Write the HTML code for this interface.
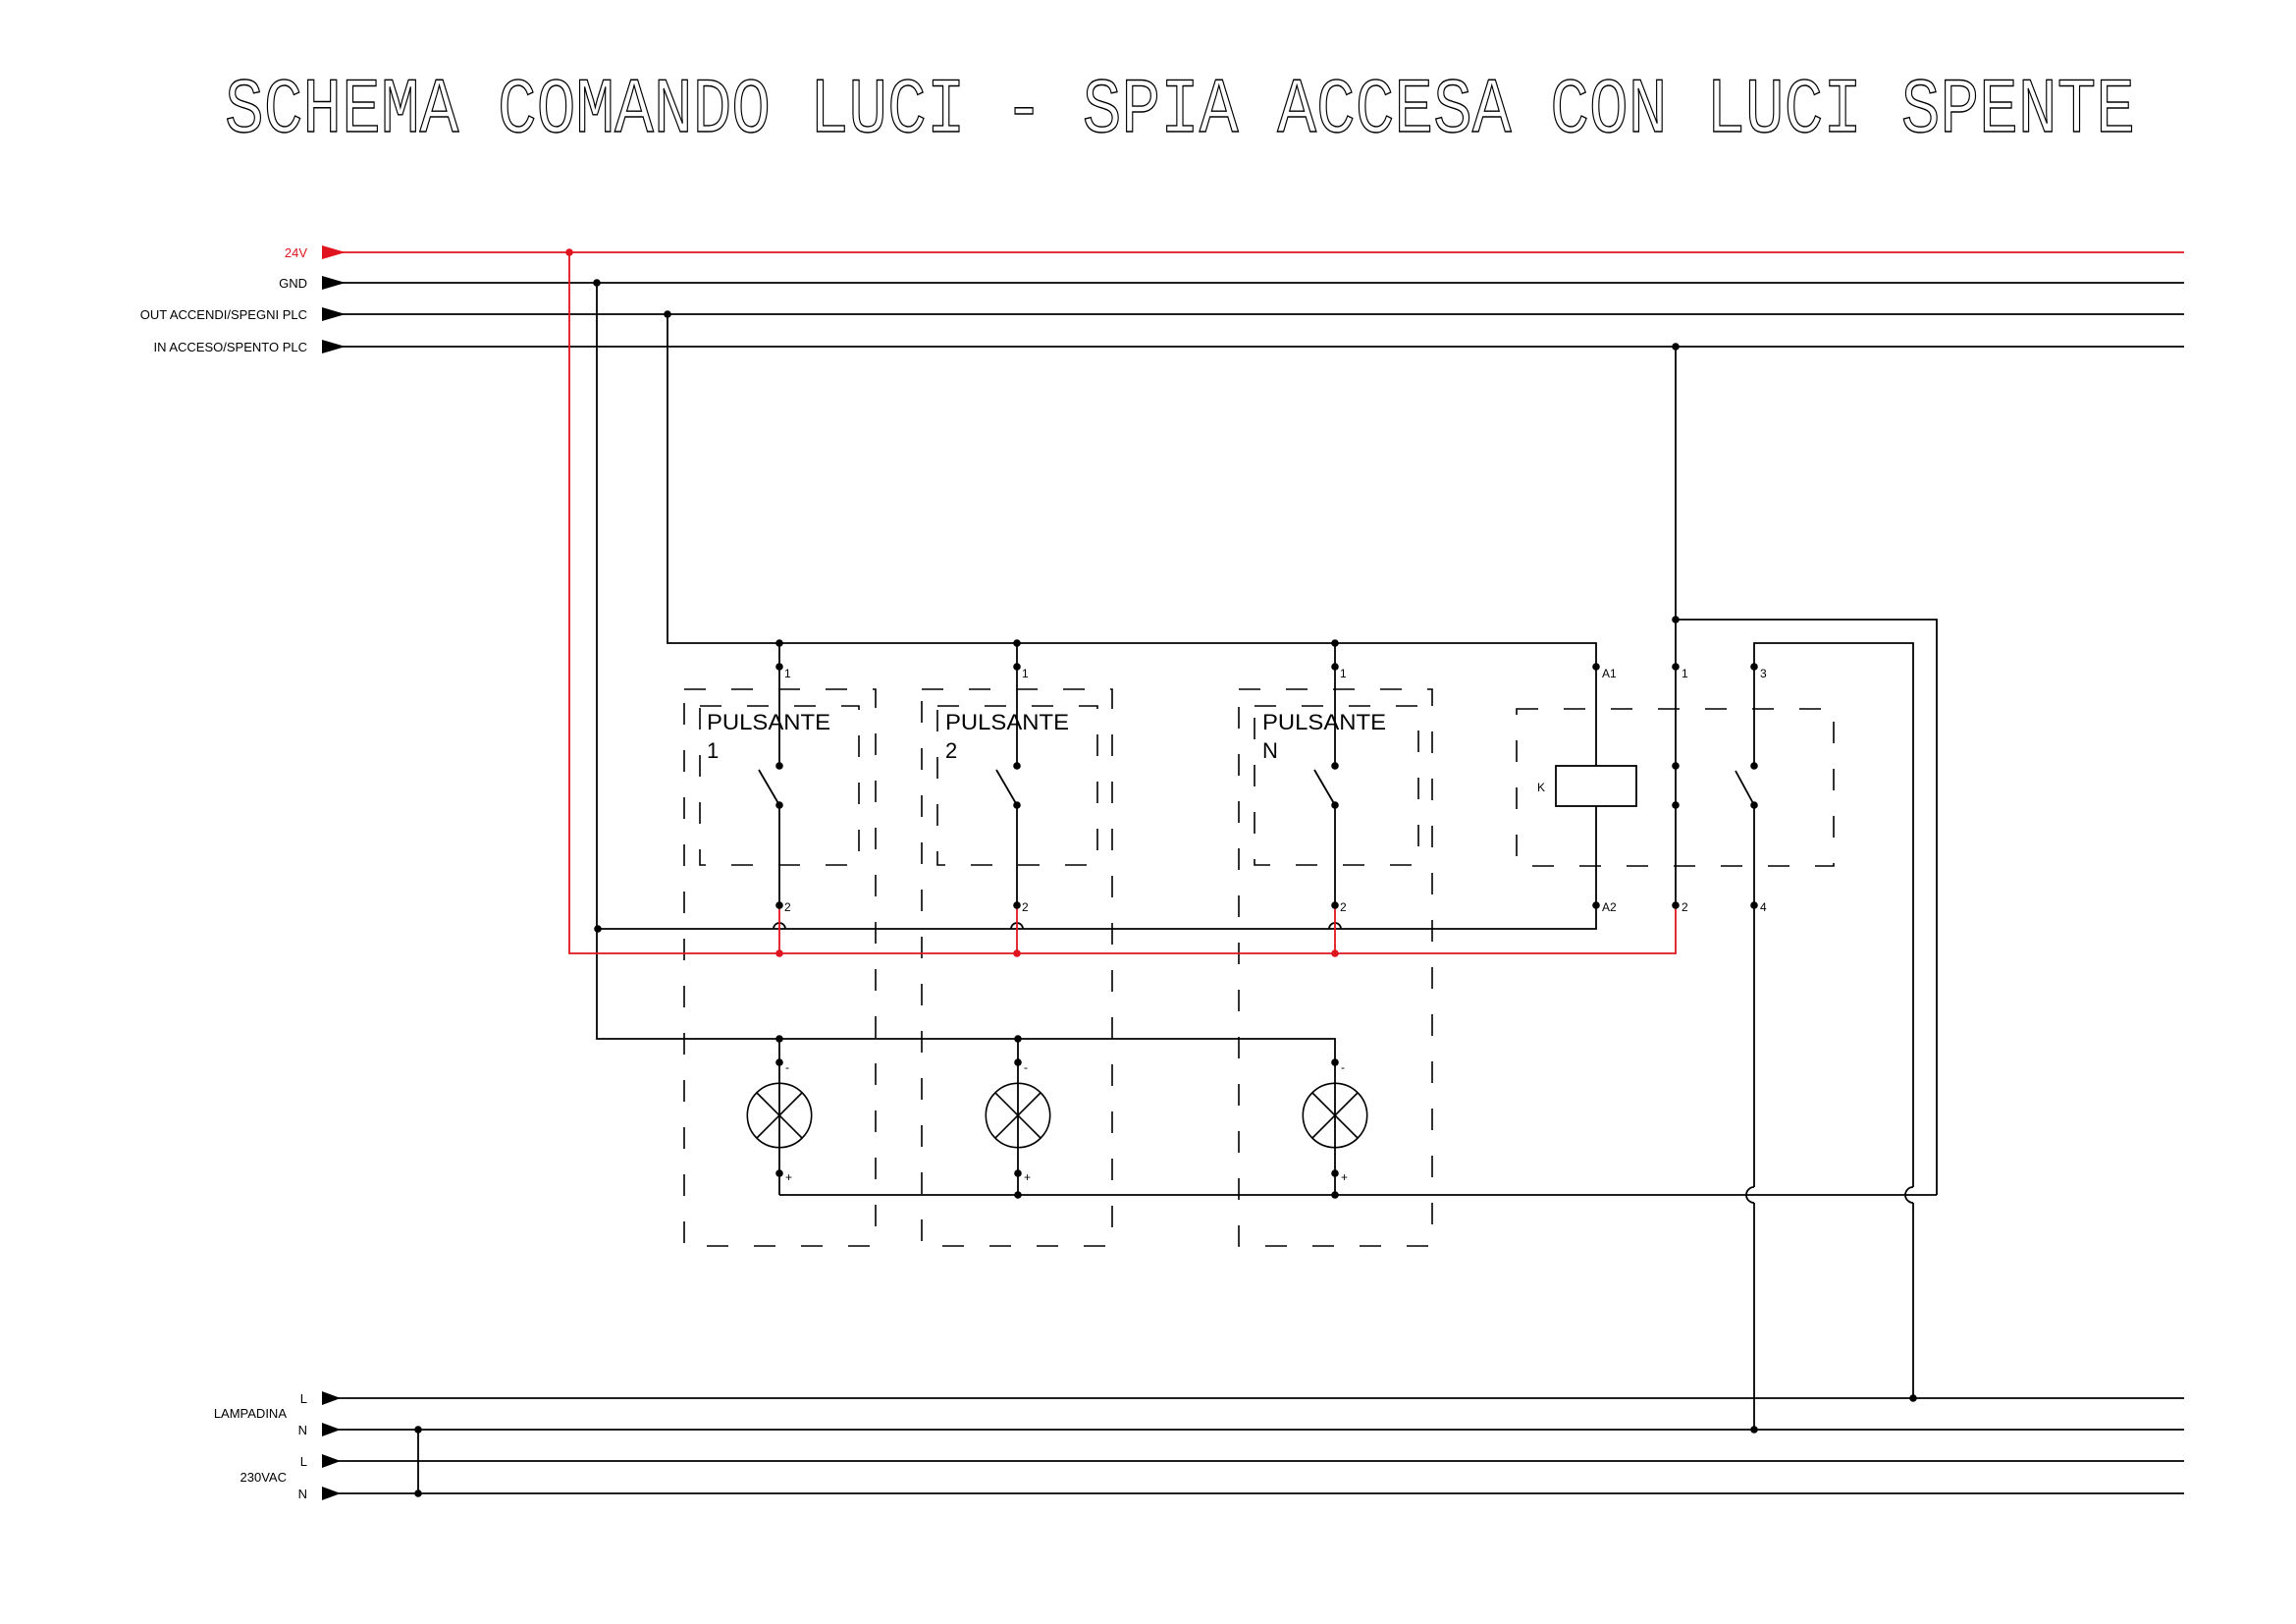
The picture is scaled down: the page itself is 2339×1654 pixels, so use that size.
<!DOCTYPE html>
<html><head><meta charset="utf-8"><style>
html,body{margin:0;padding:0;background:#fff}
svg{display:block}
text{font-family:"Liberation Sans",sans-serif}
</style></head><body>
<svg width="2339" height="1654" viewBox="0 0 2339 1654" xmlns="http://www.w3.org/2000/svg">
<rect width="2339" height="1654" fill="#fff"/>
<!-- title -->
<text x="229" y="134" font-size="80" fill="none" stroke="#000" stroke-width="1.4" style="font-family:'Liberation Mono',monospace" textLength="1946" lengthAdjust="spacingAndGlyphs">SCHEMA COMANDO LUCI - SPIA ACCESA CON LUCI SPENTE</text>

<g stroke="#000" stroke-width="1.8" fill="none">
<!-- buses -->
<line x1="340" y1="288" x2="2225" y2="288"/>
<line x1="340" y1="320" x2="2225" y2="320"/>
<line x1="340" y1="353" x2="2225" y2="353"/>
<line x1="340" y1="1424" x2="2225" y2="1424"/>
<line x1="340" y1="1456" x2="2225" y2="1456"/>
<line x1="340" y1="1488" x2="2225" y2="1488"/>
<line x1="340" y1="1521" x2="2225" y2="1521"/>
<line x1="426" y1="1456" x2="426" y2="1521"/>
<polyline points="608,288 608,1058 1360,1058 1360,1079"/>
<line x1="794" y1="1058" x2="794" y2="1217"/>
<line x1="1037" y1="1058" x2="1037" y2="1217"/>
<line x1="1360" y1="1079" x2="1360" y2="1217"/>
<polyline points="608,946 1626,946 1626,821"/>
<polyline points="680,320 680,655 1626,655 1626,780"/>
<line x1="794" y1="655" x2="794" y2="780"/><line x1="794" y1="820" x2="794" y2="922"/><line x1="773" y1="784" x2="794" y2="820"/>
<line x1="1036" y1="655" x2="1036" y2="780"/><line x1="1036" y1="820" x2="1036" y2="922"/><line x1="1015" y1="784" x2="1036" y2="820"/>
<line x1="1360" y1="655" x2="1360" y2="780"/><line x1="1360" y1="820" x2="1360" y2="922"/><line x1="1339" y1="784" x2="1360" y2="820"/>
<rect x="1585" y="780" width="82" height="41"/>
<line x1="1707" y1="353" x2="1707" y2="922"/>
<polyline points="1707,631 1973,631 1973,1217"/>
<polyline points="1787,780 1787,655 1949,655 1949,1209"/>
<path d="M1949,1209 A8,8 0 0 0 1949,1225"/>
<line x1="1949" y1="1225" x2="1949" y2="1424"/>
<line x1="1768" y1="785" x2="1787" y2="820"/>
<line x1="1787" y1="820" x2="1787" y2="1209"/>
<path d="M1787,1209 A8,8 0 0 0 1787,1225"/>
<line x1="1787" y1="1225" x2="1787" y2="1456"/>
<line x1="794" y1="1217" x2="1973" y2="1217"/>
<g stroke-width="1.6">
<circle cx="794" cy="1136" r="32.7"/><line x1="771" y1="1113" x2="817" y2="1159"/><line x1="817" y1="1113" x2="771" y2="1159"/>
<circle cx="1037" cy="1136" r="32.7"/><line x1="1014" y1="1113" x2="1060" y2="1159"/><line x1="1060" y1="1113" x2="1014" y2="1159"/>
<circle cx="1360" cy="1136" r="32.7"/><line x1="1337" y1="1113" x2="1383" y2="1159"/><line x1="1383" y1="1113" x2="1337" y2="1159"/>
</g>
<path d="M788,946 A6,6 0 0 1 800,946"/>
<path d="M1030,946 A6,6 0 0 1 1042,946"/>
<path d="M1354,946 A6,6 0 0 1 1366,946"/>
</g>

<g stroke="#000" stroke-width="1.6" fill="none" stroke-dasharray="22 26">
<rect x="697" y="702" width="195" height="567"/>
<rect x="713" y="719" width="162" height="162"/>
<rect x="939" y="702" width="194" height="567"/>
<rect x="955" y="719" width="163" height="162"/>
<rect x="1262" y="702" width="197" height="567"/>
<rect x="1278" y="719" width="167" height="162"/>
<rect x="1545" y="722" width="323" height="160"/>
</g>

<g stroke="#e0141e" stroke-width="1.8" fill="none">
<line x1="340" y1="257" x2="2225" y2="257"/>
<polyline points="580,257 580,971 1707,971 1707,922"/>
<line x1="794" y1="922" x2="794" y2="971"/>
<line x1="1036" y1="922" x2="1036" y2="971"/>
<line x1="1360" y1="922" x2="1360" y2="971"/>
</g>

<g fill="#000">
<polygon points="328,250 352,257 328,264" fill="#e0141e"/>
<polygon points="328,281 352,288 328,295"/>
<polygon points="328,313 352,320 328,327"/>
<polygon points="328,346 352,353 328,360"/>
<polygon points="328,1417 347,1424 328,1431"/>
<polygon points="328,1449 347,1456 328,1463"/>
<polygon points="328,1481 347,1488 328,1495"/>
<polygon points="328,1514 347,1521 328,1528"/>
</g>

<g fill="#000">
<circle cx="608" cy="288" r="3.8"/><circle cx="680" cy="320" r="3.8"/><circle cx="1707" cy="353" r="3.8"/>
<circle cx="426" cy="1456" r="3.8"/><circle cx="426" cy="1521" r="3.8"/>
<circle cx="1949" cy="1424" r="3.8"/><circle cx="1787" cy="1456" r="3.8"/>
<circle cx="1707" cy="631" r="3.8"/>
<circle cx="794" cy="655" r="3.8"/><circle cx="1036" cy="655" r="3.8"/><circle cx="1360" cy="655" r="3.8"/>
<circle cx="794" cy="679" r="3.8"/><circle cx="1036" cy="679" r="3.8"/><circle cx="1360" cy="679" r="3.8"/>
<circle cx="794" cy="780" r="3.8"/><circle cx="1036" cy="780" r="3.8"/><circle cx="1360" cy="780" r="3.8"/>
<circle cx="794" cy="820" r="3.8"/><circle cx="1036" cy="820" r="3.8"/><circle cx="1360" cy="820" r="3.8"/>
<circle cx="794" cy="922" r="3.8"/><circle cx="1036" cy="922" r="3.8"/><circle cx="1360" cy="922" r="3.8"/>
<circle cx="1626" cy="679" r="3.8"/><circle cx="1707" cy="679" r="3.8"/><circle cx="1787" cy="679" r="3.8"/>
<circle cx="1707" cy="780" r="3.8"/><circle cx="1707" cy="820" r="3.8"/><circle cx="1787" cy="780" r="3.8"/><circle cx="1787" cy="820" r="3.8"/>
<circle cx="1626" cy="922" r="3.8"/><circle cx="1707" cy="922" r="3.8"/><circle cx="1787" cy="922" r="3.8"/>
<circle cx="609" cy="946" r="3.8"/>
<circle cx="794" cy="1058" r="3.8"/><circle cx="1037" cy="1058" r="3.8"/>
<circle cx="794" cy="1082" r="3.8"/><circle cx="1037" cy="1082" r="3.8"/><circle cx="1360" cy="1082" r="3.8"/>
<circle cx="794" cy="1195" r="3.8"/><circle cx="1037" cy="1195" r="3.8"/><circle cx="1360" cy="1195" r="3.8"/>
<circle cx="1037" cy="1217" r="3.8"/><circle cx="1360" cy="1217" r="3.8"/>
</g>
<g fill="#e0141e">
<circle cx="580" cy="257" r="3.8"/>
<circle cx="794" cy="971" r="3.8"/><circle cx="1036" cy="971" r="3.8"/><circle cx="1360" cy="971" r="3.8"/>
</g>

<g font-size="13" text-anchor="end" fill="#000">
<text x="313" y="262" fill="#e0141e">24V</text>
<text x="313" y="293">GND</text>
<text x="313" y="325">OUT ACCENDI/SPEGNI PLC</text>
<text x="313" y="358">IN ACCESO/SPENTO PLC</text>
<text x="313" y="1429">L</text>
<text x="313" y="1461">N</text>
<text x="313" y="1493">L</text>
<text x="313" y="1526">N</text>
<text x="292" y="1444">LAMPADINA</text>
<text x="292" y="1509">230VAC</text>
</g>
<g font-size="22" fill="#000">
<text x="720" y="743" textLength="126" lengthAdjust="spacingAndGlyphs">PULSANTE</text><text x="720" y="772">1</text>
<text x="963" y="743" textLength="126" lengthAdjust="spacingAndGlyphs">PULSANTE</text><text x="963" y="772">2</text>
<text x="1286" y="743" textLength="126" lengthAdjust="spacingAndGlyphs">PULSANTE</text><text x="1286" y="772">N</text>
</g>
<g font-size="12" fill="#000">
<text x="799" y="690">1</text><text x="1041" y="690">1</text><text x="1365" y="690">1</text>
<text x="799" y="928">2</text><text x="1041" y="928">2</text><text x="1365" y="928">2</text>
<text x="1632" y="690">A1</text><text x="1713" y="690">1</text><text x="1793" y="690">3</text>
<text x="1632" y="928">A2</text><text x="1713" y="928">2</text><text x="1793" y="928">4</text>
<text x="1566" y="806">K</text>
<text x="800" y="1091">-</text><text x="1043" y="1091">-</text><text x="1366" y="1091">-</text>
<text x="800" y="1203">+</text><text x="1043" y="1203">+</text><text x="1366" y="1203">+</text>
</g>
</svg>
</body></html>
